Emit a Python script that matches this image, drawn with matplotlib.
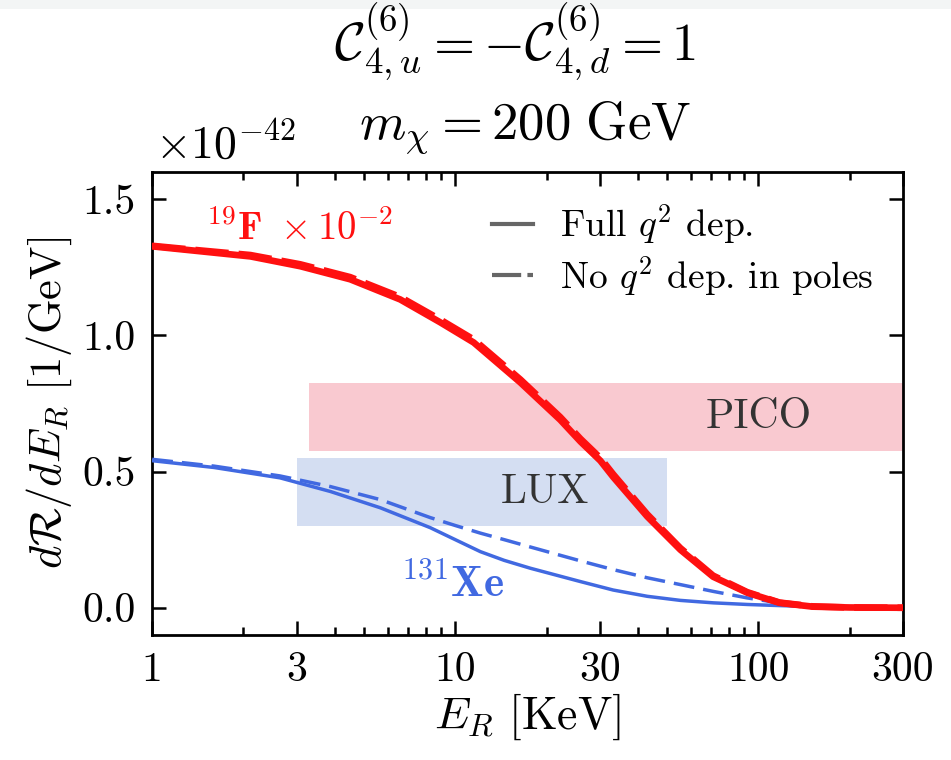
import numpy as np
import matplotlib
matplotlib.use("Agg")
import matplotlib.pyplot as plt
from matplotlib.patches import Rectangle
from matplotlib.ticker import FixedLocator, FixedFormatter, LogLocator, NullFormatter

plt.rcParams['font.family'] = 'serif'
plt.rcParams['font.serif'] = ['cmr10', 'DejaVu Serif']
plt.rcParams['mathtext.fontset'] = 'cm'
plt.rcParams['axes.formatter.use_mathtext'] = True

# Data (dR/dE_R in units of 1e-42 1/GeV; F curve already scaled by 1e-2)
E_F = [1, 1.44, 2.11, 3.08, 4.5, 6.58, 8.92, 11.5, 16.4, 22.2, 25.9, 30.1, 33.2, 43, 55.3, 70.9, 92, 117.5, 151, 200, 300]
F_full = [1.327, 1.309, 1.29, 1.254, 1.206, 1.132, 1.048, 0.974, 0.827, 0.69, 0.61, 0.54, 0.48,
          0.335, 0.213, 0.114, 0.055, 0.018, 0.004, 0.001, 0.0]
F_nopole = [1.329, 1.312, 1.295, 1.261, 1.214, 1.141, 1.058, 0.985, 0.838, 0.70, 0.62, 0.55, 0.49,
            0.343, 0.219, 0.118, 0.057, 0.019, 0.005, 0.001, 0.0]

E_Xe = [1, 1.6, 2.64, 3.87, 5.66, 8.27, 10, 12.1, 14.5, 17.7, 25.9, 33.2, 43, 55.3, 71, 92, 117, 151, 200, 300]
Xe_full = [0.54, 0.515, 0.477, 0.427, 0.367, 0.294, 0.25, 0.206, 0.174, 0.145, 0.096, 0.065, 0.042,
           0.027, 0.018, 0.012, 0.008, 0.004, 0.002, 0.0]
Xe_nopole = [0.545, 0.52, 0.484, 0.445, 0.397, 0.331, 0.302, 0.274, 0.25, 0.223, 0.172, 0.14, 0.11,
             0.085, 0.06, 0.036, 0.018, 0.008, 0.003, 0.001]

# Experimental regions: (E_min, E_max, y_min, y_max)
PICO = (3.3, 300, 0.575, 0.826)
LUX = (3.0, 50, 0.30, 0.55)

xticks = [1, 3, 10, 30, 100, 300]
xticklabels = ['1', '3', '10', '30', '100', '300']
yticks = [0.0, 0.5, 1.0, 1.5]
yticklabels = ['0.0', '0.5', '1.0', '1.5']

red = '#ff1010'
blue = '#4169e1'

fig = plt.figure(figsize=(9.51, 7.6), dpi=100)
fig.patches.append(Rectangle((0, 1 - 9/760), 1, 9/760, transform=fig.transFigure,
                             color='#f3f5f5', lw=0, zorder=0))
ax = fig.add_axes([0.160, 0.1645, 0.7895, 0.6092])

ax.fill_between([PICO[0], PICO[1]], PICO[2], PICO[3], color='#f9c9d0', lw=0, zorder=1)
ax.fill_between([LUX[0], LUX[1]], LUX[2], LUX[3], color='#d4def2', lw=0, zorder=1)
ax.text(100, (PICO[2]+PICO[3])/2, 'PICO', fontsize=30,
        color='#333333', ha='center', va='center', zorder=2)
ax.text(19.7, (LUX[2]+LUX[3])/2, 'LUX', fontsize=30,
        color='#333333', ha='center', va='center', zorder=2)

ax.plot(E_Xe, Xe_full, color=blue, lw=2.5, zorder=3)
ax.plot(E_Xe, Xe_nopole, color=blue, lw=2.5, ls=(0, (6, 2.6)), zorder=3)
ax.plot(E_F, F_full, color=red, lw=4.8, zorder=4)
ax.plot(E_F, F_nopole, color=red, lw=4.8, ls=(0, (5, 1.5)), zorder=4)

# legend proxies
ax.plot([], [], color='#666666', lw=3, label=r'Full $q^2$ dep.')
ax.plot([], [], color='#666666', lw=3, ls=(0, (7, 1.5)), label=r'No $q^2$ dep. in poles')
leg = ax.legend(loc='upper right', frameon=False, fontsize=27, handlelength=1.1,
                bbox_to_anchor=(1.005, 1.007), labelspacing=0.2, handletextpad=0.7)

ax.text(1.5, 1.35, r'$^{19}\mathbf{F}\ \times10^{-2}$', color=red, fontsize=28)
ax.text(6.6, 0.04, r'$^{131}\mathbf{Xe}$', color=blue, fontsize=31)

ax.set_xscale('log')
ax.set_xlim(1, 300)
ax.set_ylim(-0.1, 1.6)
ax.xaxis.set_major_locator(FixedLocator(xticks))
ax.xaxis.set_major_formatter(FixedFormatter(xticklabels))
ax.xaxis.set_minor_locator(LogLocator(base=10, subs=np.arange(2, 10)))
ax.xaxis.set_minor_formatter(NullFormatter())
ax.yaxis.set_major_locator(FixedLocator(yticks))
ax.yaxis.set_major_formatter(FixedFormatter(yticklabels))

ax.tick_params(which='both', direction='in', top=True, right=True, width=1.8)
ax.tick_params(which='major', length=10, labelsize=30, pad=12)
ax.tick_params(which='minor', length=6)
for s in ax.spines.values():
    s.set_linewidth(2)

ax.set_xlabel(r'$E_R\ [\mathrm{KeV}]$', fontsize=33, labelpad=2)
ax.set_ylabel(r'$d\mathcal{R}/dE_R\ [1/\mathrm{GeV}]$', fontsize=32, labelpad=6)

fig.text(0.163, 0.793, r'$\times10^{-42}$', fontsize=33, ha='left', va='baseline')
fig.text(0.541, 0.92, r'$\mathcal{C}^{(6)}_{4,u} = -\mathcal{C}^{(6)}_{4,d} = 1$',
         fontsize=38, ha='center', va='baseline')
fig.text(0.552, 0.817, r'$m_\chi = 200\ \mathrm{GeV}$', fontsize=38, ha='center', va='baseline')

fig.savefig('out.png', dpi=100)
